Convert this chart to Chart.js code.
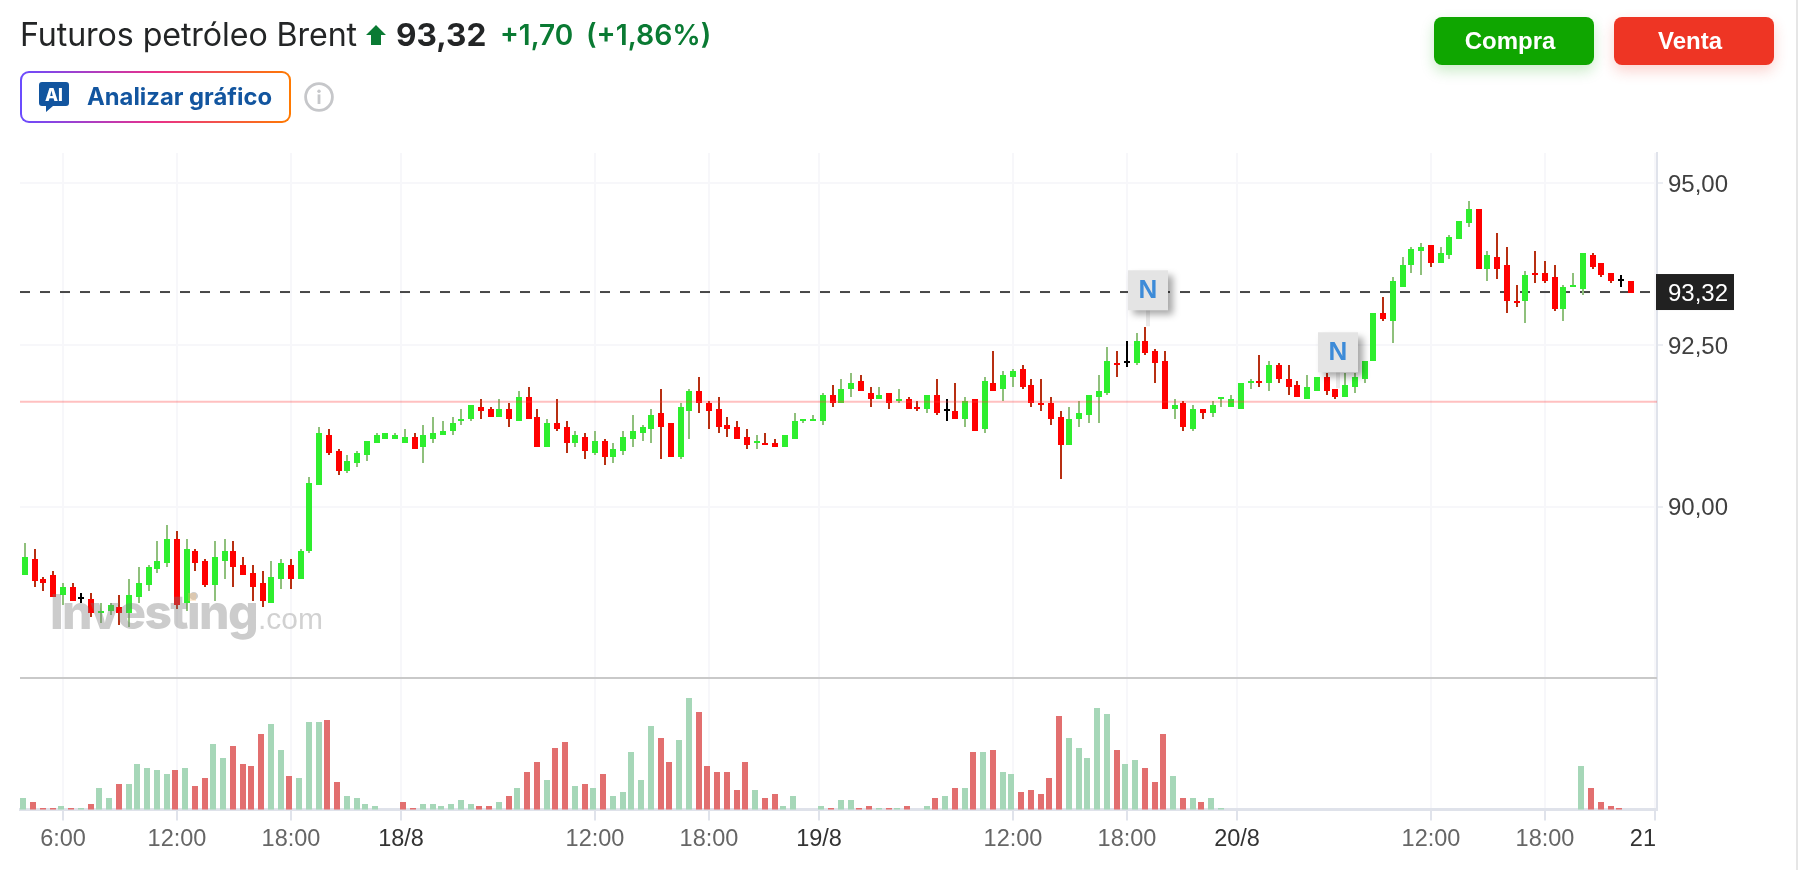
<!DOCTYPE html>
<html lang="es">
<head>
<meta charset="utf-8">
<title>Futuros petróleo Brent</title>
<script src="https://cdn.jsdelivr.net/npm/chart.js@4/dist/chart.umd.min.js"></script>
<style>
  html, body { margin: 0; padding: 0; background: #fff; overflow: hidden; }
  #page { position: relative; width: 1798px; height: 870px; font-family: Inter, sans-serif; }
  #page > canvas { position: absolute; left: 0; top: 0; }
  .head { position: absolute; white-space: nowrap; line-height: 38px; top: 16px; }
  #name { left: 20px; font-size: 32.2px; letter-spacing: -0.1px; color: #232526; }
  #arrow { position: absolute; left: 366px; top: 25px; }
  #last { left: 396px; font-size: 31.6px; font-weight: 700; color: #232526; }
  #chg { left: 500px; font-size: 28px; font-weight: 600; color: #0a7a33; }
  #pct { left: 586px; font-size: 28.4px; font-weight: 600; color: #0a7a33; }
  .trade { position: absolute; top: 17px; width: 160px; height: 48px; border-radius: 8px; color: #fff; box-sizing: border-box; padding-right: 8px;
    font: 700 24px/47px "Liberation Sans", sans-serif; text-align: center; }
  #buy { left: 1434px; background: #0fa600; box-shadow: 0 6px 14px rgba(15,166,0,.22); }
  #sell { left: 1614px; background: #ee3524; box-shadow: 0 6px 14px rgba(238,53,36,.22); }
  #ai { position: absolute; left: 20px; top: 71px; width: 271px; height: 52px; box-sizing: border-box; border-radius: 9px;
    border: 2px solid transparent;
    background: linear-gradient(#fff, #fff) padding-box, linear-gradient(90deg, #6a4cff, #e8308a 50%, #ff7a00) border-box; }
  #ai svg { position: absolute; left: 17px; top: 9px; }
  #ai span { position: absolute; left: 65px; top: 0; font-size: 23.8px; font-weight: 700; line-height: 47px; color: #12559f; white-space: nowrap; }
  #info { position: absolute; left: 304px; top: 82px; }
  #edge { position: absolute; left: 1796px; top: 0; width: 2px; height: 870px; background: #e6e6e6; }
</style>
</head>
<body>
<div id="page">
  <canvas id="brentChart" width="1798" height="870"></canvas>
  <div class="head" id="name">Futuros petróleo Brent</div>
  <svg id="arrow" width="20" height="20" viewBox="0 0 20 20"><path d="M10 0 L20 10 H15 V20 H5 V10 H0 Z" fill="#0a7a33"/></svg>
  <div class="head" id="last">93,32</div>
  <div class="head" id="chg">+1,70</div>
  <div class="head" id="pct">(+1,86%)</div>
  <div id="ai">
    <svg width="30" height="31" viewBox="0 0 30 31">
      <path d="M3 0 H27 a3 3 0 0 1 3 3 V21 a3 3 0 0 1 -3 3 H14 L7 30 V24 H3 a3 3 0 0 1 -3 -3 V3 a3 3 0 0 1 3 -3 Z" fill="#12559f"/>
      <text x="15" y="18.5" text-anchor="middle" font-family="Inter" font-weight="800" font-size="17" fill="#fff">AI</text>
    </svg>
    <span>Analizar gráfico</span>
  </div>
  <svg id="info" width="30" height="30" viewBox="0 0 30 30">
    <circle cx="15" cy="15" r="13.4" fill="none" stroke="#c6c7ca" stroke-width="2.8"/>
    <circle cx="15" cy="9.2" r="1.7" fill="#c6c7ca"/>
    <rect x="13.6" y="12.4" width="2.8" height="9.6" fill="#c6c7ca"/>
  </svg>
  <div class="trade" id="buy">Compra</div>
  <div class="trade" id="sell">Venta</div>
  <div id="edge"></div>
</div>
<script>
// 30 minute candles
const opens = [88.94,89.18,88.87,88.93,88.63,88.75,88.58,88.56,88.36,88.38,
  88.44,88.36,88.60,88.78,89.03,89.13,89.49,88.51,89.31,89.15,
  88.78,89.16,89.31,89.09,88.97,88.81,88.51,88.88,89.09,88.88,
  89.31,90.33,91.10,90.85,90.55,90.67,90.80,90.98,91.04,91.04,
  90.98,91.07,90.92,91.04,91.11,91.17,91.32,91.35,91.54,91.50,
  91.39,91.50,91.32,91.69,91.38,90.92,91.29,91.23,90.98,91.07,
  90.83,91.01,90.77,90.86,91.05,91.14,91.20,91.44,91.29,90.77,
  91.48,91.78,91.60,91.50,91.26,91.23,91.07,90.98,90.98,90.98,
  90.92,91.05,91.32,91.32,91.32,91.72,91.60,91.82,91.94,91.75,
  91.66,91.75,91.63,91.66,91.54,91.51,91.72,91.49,91.47,91.35,
  91.66,91.20,91.91,91.82,92.00,92.12,91.88,91.60,91.60,91.38,
  90.95,91.35,91.42,91.70,91.76,92.22,92.21,92.22,92.56,92.40,
  92.25,91.51,91.60,91.20,91.50,91.45,91.66,91.54,91.51,91.91,
  91.94,91.91,92.19,91.97,91.88,91.66,91.79,92.00,91.81,91.69,
  91.85,91.97,92.25,92.99,92.87,93.40,93.74,93.95,94.04,93.77,
  93.89,94.14,94.39,94.60,93.68,93.86,93.73,93.18,93.18,93.61,
  93.61,93.55,93.06,93.40,93.37,93.89,93.76,93.61,93.48,93.49];
const highs = [89.43,89.34,88.90,89.00,88.81,88.81,88.66,88.66,88.50,88.50,
  88.62,88.87,89.06,89.09,89.46,89.71,89.62,89.49,89.34,89.18,
  89.46,89.49,89.46,89.21,89.09,89.00,89.15,89.18,89.18,89.34,
  90.45,91.23,91.19,90.88,90.79,90.85,91.01,91.13,91.13,91.13,
  91.19,91.13,91.26,91.38,91.32,91.38,91.50,91.57,91.66,91.54,
  91.66,91.60,91.78,91.85,91.50,91.35,91.66,91.32,91.16,91.13,
  91.16,91.04,90.98,91.16,91.41,91.26,91.50,91.81,91.29,91.60,
  91.81,92.00,91.63,91.69,91.38,91.32,91.20,91.10,91.13,91.04,
  91.10,91.44,91.35,91.41,91.75,91.88,91.97,92.06,92.03,91.85,
  91.85,91.75,91.81,91.69,91.63,91.72,91.97,91.66,91.91,91.69,
  91.66,92.00,92.40,92.09,92.12,92.19,91.97,91.97,91.69,91.47,
  91.54,91.63,91.72,92.03,92.46,92.40,92.56,92.68,92.79,92.43,
  92.40,91.66,91.63,91.57,91.50,91.63,91.69,91.72,91.91,91.97,
  92.34,92.25,92.22,92.19,91.94,92.03,92.00,92.06,91.83,92.06,
  92.06,92.25,92.99,93.24,93.55,93.86,94.01,94.07,94.04,94.01,
  94.20,94.41,94.72,94.60,93.95,94.23,94.01,93.42,93.64,93.95,
  93.80,93.73,93.42,93.61,93.92,93.92,93.76,93.61,93.58,93.49];
const lows = [88.94,88.76,88.70,88.60,88.48,88.54,88.51,88.29,88.20,88.32,
  88.17,88.14,88.51,88.70,88.98,89.07,88.42,88.39,89.01,88.76,
  88.54,88.88,88.76,88.94,88.54,88.45,88.51,88.73,88.73,88.88,
  89.29,90.33,90.80,90.49,90.52,90.62,90.71,90.98,91.04,91.04,
  90.98,90.89,90.68,90.99,91.11,91.11,91.26,91.32,91.35,91.39,
  91.39,91.23,91.32,91.35,90.92,90.92,91.17,90.83,90.92,90.74,
  90.80,90.64,90.67,90.80,90.92,91.01,90.98,90.74,90.77,90.74,
  91.05,91.45,91.20,91.14,91.08,91.05,90.89,90.89,90.95,90.92,
  90.92,91.05,91.29,91.32,91.26,91.54,91.60,91.70,91.79,91.54,
  91.66,91.51,91.60,91.51,91.48,91.45,91.42,91.32,91.35,91.23,
  91.17,91.14,91.79,91.63,91.85,91.82,91.54,91.48,91.26,90.43,
  90.95,91.23,91.29,91.29,91.72,92.00,92.16,92.19,92.35,91.91,
  91.51,91.35,91.17,91.17,91.35,91.39,91.54,91.54,91.51,91.82,
  91.85,91.79,91.91,91.72,91.70,91.66,91.79,91.72,91.66,91.69,
  91.76,91.91,92.25,92.87,92.53,93.40,93.61,93.58,93.71,93.77,
  93.83,94.14,94.33,93.68,93.49,93.52,93.00,93.09,92.84,93.46,
  93.46,93.03,92.87,93.40,93.27,93.68,93.55,93.46,93.40,93.32];
const closes = [89.21,88.85,88.82,88.60,88.75,88.54,88.58,88.36,88.38,88.47,
  88.36,88.62,88.81,89.06,89.15,89.49,88.48,89.34,89.13,88.78,
  89.21,89.31,89.06,88.94,88.75,88.54,88.90,89.12,88.88,89.31,
  90.36,91.13,90.83,90.55,90.70,90.82,91.01,91.10,91.13,91.10,
  91.07,90.89,91.10,91.13,91.16,91.29,91.35,91.57,91.48,91.39,
  91.50,91.35,91.69,91.35,90.92,91.29,91.20,90.98,91.10,90.86,
  91.01,90.77,90.89,91.07,91.16,91.23,91.41,91.23,90.77,91.54,
  91.78,91.60,91.48,91.23,91.20,91.05,90.95,91.00,90.95,90.92,
  91.10,91.32,91.35,91.35,91.72,91.60,91.81,91.91,91.79,91.66,
  91.72,91.60,91.66,91.51,91.51,91.72,91.45,91.49,91.35,91.63,
  91.17,91.94,91.79,92.03,92.09,91.85,91.60,91.57,91.35,90.95,
  91.35,91.44,91.72,91.78,92.25,92.19,92.21,92.56,92.38,92.22,
  91.51,91.57,91.23,91.50,91.45,91.57,91.69,91.66,91.91,91.94,
  91.91,92.19,91.97,91.85,91.70,91.85,92.00,91.79,91.69,91.88,
  92.00,92.25,92.99,92.90,93.49,93.73,93.98,94.01,93.77,93.92,
  94.17,94.41,94.60,93.68,93.89,93.68,93.18,93.15,93.58,93.58,
  93.49,93.06,93.39,93.42,93.92,93.71,93.58,93.49,93.48,93.32];
// volume has no printed scale, so these are relative heights
const volumes = [34,22,4,4,10,4,4,16,64,34,
  76,76,136,124,118,106,118,124,70,94,
  196,154,190,136,130,226,256,178,100,94,
  262,262,268,82,40,34,16,10,0,0,
  22,4,16,16,10,16,28,16,10,10,
  22,40,64,112,142,88,184,202,70,76,
  64,106,40,52,172,88,250,214,142,208,
  334,292,130,112,112,58,142,58,34,46,
  10,40,0,0,10,4,28,28,4,10,
  4,4,4,10,0,10,34,40,64,64,
  172,172,178,112,106,52,58,46,94,280,
  214,184,154,304,286,178,136,148,124,82,
  226,100,34,34,22,34,4,0,0,0,
  0,0,0,0,0,0,0,0,0,0,
  0,0,0,0,0,0,0,0,0,0,
  0,0,0,0,0,0,0,0,0,0,
  0,0,0,0,130,64,22,10,4,0];
const redVolumeExtra = [40, 168]; // bars that are red although the candle is not

const xTickValues = [4, 16, 28, 39.58, 60, 72, 83.58, 104, 116, 127.58, 148, 160, 171.58];
const xTickLabels = ['6:00','12:00','18:00','18/8','12:00','18:00','19/8','12:00','18:00','20/8','12:00','18:00','21'];
const yTickValues = [90, 92.5, 95];
const yTickLabels = ['90,00','92,50','95,00'];

const lastPrice = 93.32;
const prevClose = 91.62;
const paneDivider = 87.345; // price level where the volume pane starts
const newsCandles = [118, 138];

const xMin = -0.526, xMax = 171.79;
const yMin = 85.31, yMax = 95.472;
const volumeMax = 1969.5;

const LABEL_FONT = '24px "Liberation Sans", sans-serif';

const idx = opens.map((_, i) => i);
const wickColor = i => closes[i] > opens[i] ? '#8fc07c' : closes[i] < opens[i] ? '#b72f12' : '#000';
const bodyColor = i => closes[i] > opens[i] ? '#2eee2e' : closes[i] < opens[i] ? '#ff0000' : '#000';
const volColor = i => (closes[i] < opens[i] || redVolumeExtra.includes(i)) ? '#e26f6f' : '#a6d7b8';

// snap bars to the same 2px raster as the original
const pixelSnap = {
  id: 'pixelSnap',
  beforeDatasetsDraw(chart) {
    chart.data.datasets.forEach((ds, d) => {
      if (!ds.snap) return;
      chart.getDatasetMeta(d).data.forEach(bar => {
        const w = bar.width;
        if (ds.snap === 'volume') {
          if (bar.snapped) return;
          const left = 2 * Math.ceil((bar.x - 5) / 2);
          bar.x = left + w / 2;
          bar.y = 2 * Math.round(bar.y / 2);
          bar.base = 810;
          bar.snapped = true;
        } else {
          const body = w > 3 ? 3 : 1;
          const left = 2 * Math.round((bar.x - 3 - 0.1) / 2) + (3 - body);
          if (!bar.snapped) bar.x = left + w / 2;
          bar.y = 2 * Math.round((bar.y - 1) / 2) + 1;
          bar.base = 2 * Math.round((bar.base - 1) / 2) + 1;
          bar.snapped = true;
        }
      });
    });
  }
};

const overlays = {
  id: 'overlays',
  afterDatasetsDraw(chart) {
    const ctx = chart.ctx;
    // watermark, sits over the candles
    ctx.save();
    ctx.fillStyle = 'rgba(120,120,120,0.38)';
    ctx.textBaseline = 'alphabetic';
    ctx.font = '800 48px Inter, sans-serif';
    ctx.letterSpacing = '-1.6px';
    ctx.fillText('Investing', 50, 629);
    ctx.font = '30px "Liberation Sans", sans-serif';
    ctx.letterSpacing = '0px';
    ctx.fillStyle = 'rgba(120,120,120,0.34)';
    ctx.fillText('.com', 258, 629);
    ctx.fillStyle = 'rgba(255,190,110,0.3)';
    ctx.fillRect(188, 593, 8, 8);
    ctx.restore();
  },
  afterDraw(chart) {
    const ctx = chart.ctx, xs = chart.scales.x, ys = chart.scales.y;
    ctx.save();
    // news flags
    newsCandles.forEach(i => {
      const cx = Math.round(xs.getPixelForValue(i)) + 2;
      const tip = ys.getPixelForValue(highs[i]);
      ctx.fillStyle = '#e9e9e9';
      ctx.fillRect(cx - 2, tip - 16, 4, 16);
      ctx.save();
      ctx.shadowColor = 'rgba(0,0,0,0.35)';
      ctx.shadowBlur = 7;
      ctx.shadowOffsetX = 5;
      ctx.shadowOffsetY = 5;
      ctx.fillStyle = '#e4e4e4';
      ctx.fillRect(cx - 20, tip - 56, 40, 40);
      ctx.restore();
      ctx.fillStyle = '#3d8bd8';
      ctx.font = 'bold 26px "Liberation Sans", sans-serif';
      ctx.textAlign = 'center';
      ctx.textBaseline = 'middle';
      ctx.fillText('N', cx, tip - 35);
    });
    // last price tag
    const py = ys.getPixelForValue(lastPrice);
    ctx.fillStyle = '#212121';
    ctx.fillRect(1656, py - 18, 78, 36);
    ctx.fillStyle = '#fff';
    ctx.font = LABEL_FONT;
    ctx.textAlign = 'left';
    ctx.textBaseline = 'middle';
    ctx.fillText(lastPrice.toFixed(2).replace('.', ','), 1668, py + 2);
    // last date label hugs the axis end, chart.js only centres labels
    ctx.fillStyle = '#333';
    ctx.textAlign = 'right';
    ctx.font = '23.5px "Liberation Sans", sans-serif';
    ctx.fillText(xTickLabels[xTickLabels.length - 1], 1656, 840);
    ctx.restore();
  }
};

new Chart(document.getElementById('brentChart'), {
  data: {
    datasets: [
      {
        type: 'bar', snap: 'wick', order: 4, barThickness: 2,
        data: idx.map(i => ({ x: i, y: [lows[i], highs[i]] })),
        backgroundColor: idx.map(wickColor)
      },
      {
        type: 'bar', snap: 'body', order: 3, barThickness: 6, minBarLength: 2,
        data: idx.map(i => ({ x: i, y: [opens[i], closes[i]] })),
        backgroundColor: idx.map(bodyColor)
      },
      {
        type: 'bar', snap: 'volume', order: 3, barThickness: 6, yAxisID: 'yv',
        data: idx.map(i => ({ x: i, y: volumes[i] })),
        backgroundColor: idx.map(volColor)
      },
      {
        type: 'line', order: 5, borderColor: '#474747', borderWidth: 2, borderDash: [10, 10], pointRadius: 0,
        data: [{ x: xMin, y: lastPrice }, { x: xMax, y: lastPrice }]
      },
      {
        type: 'line', order: 1, borderColor: 'rgba(255,60,60,0.32)', borderWidth: 2, pointRadius: 0,
        data: [{ x: xMin, y: prevClose }, { x: xMax, y: prevClose }]
      },
      {
        type: 'line', order: 6, borderColor: '#c9c9c9', borderWidth: 2, pointRadius: 0,
        data: [{ x: xMin, y: paneDivider }, { x: xMax, y: paneDivider }]
      }
    ]
  },
  options: {
    responsive: false,
    animation: false,
    events: [],
    layout: { padding: { left: 20, top: 153, right: 0, bottom: 0 } },
    datasets: { bar: { grouped: false, inflateAmount: 0, borderWidth: 0 } },
    plugins: { legend: { display: false }, tooltip: { enabled: false } },
    scales: {
      x: {
        type: 'linear', min: xMin, max: xMax, offset: false,
        afterFit: s => { s.height = 60.5; },
        afterBuildTicks: s => { s.ticks = xTickValues.map(v => ({ value: v })); },
        border: { color: '#dfe2ea', width: 3 },
        grid: { offset: false, color: '#f7f7fa', lineWidth: 2, tickColor: '#e0e3eb', tickWidth: 2, tickLength: 11 },
        ticks: {
          autoSkip: false, maxRotation: 0, padding: 5,
          font: { family: '"Liberation Sans", sans-serif', size: 23.5 },
          color: c => xTickLabels[c.index].includes(':') ? '#666666' : '#333333',
          callback: (v, i) => i === xTickLabels.length - 1 ? '' : xTickLabels[i]
        }
      },
      y: {
        position: 'right', min: yMin, max: yMax,
        afterFit: s => { s.width = 141; },
        afterBuildTicks: s => { s.ticks = yTickValues.map(v => ({ value: v })); },
        border: { color: '#e0e3eb', width: 2 },
        grid: { color: '#f7f7fa', lineWidth: 2, tickColor: '#eceef3', tickWidth: 2, tickLength: 6 },
        ticks: {
          padding: 5, color: '#404040', labelOffset: 2,
          font: { family: '"Liberation Sans", sans-serif', size: 24 },
          callback: (v, i) => yTickLabels[i]
        }
      },
      yv: { display: false, min: 0, max: volumeMax }
    }
  },
  plugins: [pixelSnap, overlays]
});
</script>
</body>
</html>
